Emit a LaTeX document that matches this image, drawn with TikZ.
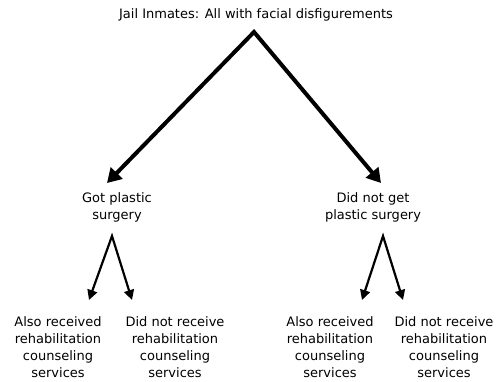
\documentclass[tikz,border=0pt]{standalone}
\usepackage{fontspec}
\setmainfont{DejaVu Sans}
\usetikzlibrary{arrows.meta}
\begin{document}
\begin{tikzpicture}[x=1pt,y=-1pt,
  lbl/.style={align=center,font=\fontsize{13}{17}\selectfont,inner sep=0pt},
  bigarrow/.style={line width=4pt,line join=miter,{Triangle[length=14pt,width=16pt]}-{Triangle[length=14pt,width=16pt]}},
  smallarrow/.style={line width=2.2pt,line join=miter,{Triangle[length=10pt,width=10pt]}-{Triangle[length=10pt,width=10pt]}}]
\useasboundingbox (0,0) rectangle (502,381);
% root and branch labels
\node[lbl] (root) at (256,15) {Jail Inmates: All with facial disfigurements};
\coordinate (apex) at (254,32);
\coordinate (tipL) at (107,183);
\coordinate (tipR) at (381,183);
\node[lbl] (got) at (117,207) {Got plastic\\surgery};
\node[lbl] (notgot) at (373,207) {Did not get\\plastic surgery};
\draw[bigarrow] (tipL) -- (apex) -- (tipR);
% second level
\coordinate (aL) at (112,236);
\coordinate (aR) at (383,236);
\coordinate (t1) at (89,300);
\coordinate (t2) at (132,300);
\coordinate (t3) at (362,300);
\coordinate (t4) at (403,300);
\draw[smallarrow] (t1) -- (aL) -- (t2);
\draw[smallarrow] (t3) -- (aR) -- (t4);
\node[lbl] (l1) at (58,347) {Also received\\rehabilitation\\counseling\\services};
\node[lbl] (l2) at (175,347) {Did not receive\\rehabilitation\\counseling\\services};
\node[lbl] (l3) at (330,347) {Also received\\rehabilitation\\counseling\\services};
\node[lbl] (l4) at (444,347) {Did not receive\\rehabilitation\\counseling\\services};
\end{tikzpicture}
\end{document}
